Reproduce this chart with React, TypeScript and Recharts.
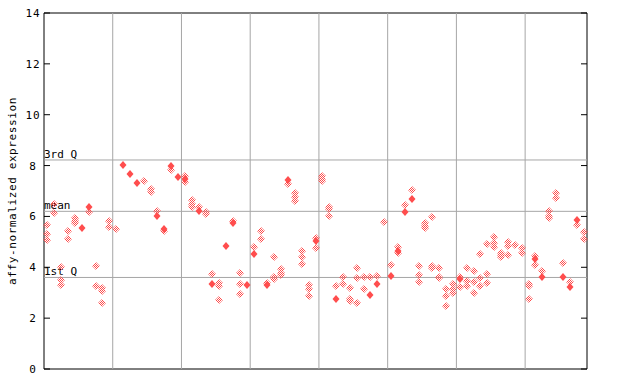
import {
  ScatterChart,
  Scatter,
  XAxis,
  YAxis,
  ReferenceLine,
  ReferenceArea,
  Label,
} from "recharts";

// one entry per sample, in plot order
const hatchedValues: number[][] = [
  [5.66, 5.31, 5.07], [6.49, 6.12], [4.02, 3.5, 3.3], [5.43, 5.1], [5.93, 5.83, 5.73],
  [], [6.16], [4.05, 3.26], [3.2, 3.08, 2.58], [5.82, 5.57],
  [5.52], [], [], [], [7.39],
  [7.07, 6.97], [6.2], [5.41], [7.83], [],
  [7.59, 7.35], [6.65, 6.48, 6.38], [6.36], [6.19, 6.08], [3.74],
  [3.4, 3.26, 2.71], [], [5.82], [3.76, 3.33, 2.94], [],
  [4.78], [5.43, 5.1], [3.4], [4.39, 3.63, 3.53], [3.93, 3.79, 3.68],
  [7.26], [6.93, 6.78, 6.62], [4.63, 4.39, 4.12], [3.3, 3.13, 2.87], [5.15, 4.75],
  [7.59, 7.48, 7.38], [6.36, 6.28, 6.0], [3.26], [3.62, 3.33], [3.19, 2.76, 2.67],
  [3.96, 3.57, 2.58], [3.62, 3.13], [3.62], [3.64], [5.79],
  [4.08], [4.78, 4.55], [6.44], [7.04], [4.05, 3.68, 3.41],
  [5.73, 5.64, 5.53], [5.96, 4.04, 3.96], [3.96, 3.63, 3.57], [3.13, 2.86, 2.47], [3.34, 3.13, 2.99],
  [3.63, 3.21], [3.96, 3.45, 3.25], [3.84, 3.41, 2.99], [4.51, 3.57, 3.25], [4.9, 3.72, 3.37],
  [5.18, 4.97, 4.79], [4.55, 4.47, 4.39], [4.98, 4.82, 4.47], [4.86], [4.75, 4.55],
  [3.33, 3.25, 2.74], [4.43, 4.08], [3.84], [6.2, 6.0, 5.93], [6.91, 6.71],
  [4.16], [3.41], [5.65], [5.39, 5.1],
];

const solidValues: number[][] = [
  [], [], [], [], [],
  [5.56], [6.38], [], [], [],
  [], [8.02], [7.68], [7.3], [],
  [], [6.03], [5.52], [7.99], [7.55],
  [7.48], [], [6.23], [], [3.36],
  [], [4.82], [5.73], [], [3.3],
  [4.53], [], [3.3], [], [],
  [7.43], [], [], [], [5.02],
  [], [], [2.76], [], [],
  [], [], [2.92], [3.36], [],
  [3.67], [4.66], [6.17], [6.67], [],
  [], [], [], [], [],
  [3.55], [], [], [], [],
  [], [], [], [], [],
  [], [4.34], [3.63], [], [],
  [3.63], [3.24], [5.87], [],
];

const yTicks = [0, 2, 4, 6, 8, 10, 12, 14];
const groupBounds = [9.5, 19.5, 29.5, 39.5, 49.5, 59.5, 69.5];
const quartiles = [
  { label: "3rd Q", value: 8.22 },
  { label: "mean", value: 6.2 },
  { label: "1st Q", value: 3.6 },
];

const PLOT_LEFT = 44;
const PLOT_RIGHT = 587;
const RED = "#ff4d4d";
const GRID = "#a6a6a6";
const MONO = "'DejaVu Sans Mono', monospace";

const toPoints = (rows: number[][]) =>
  rows.flatMap((vals, i) => vals.map((v) => ({ x: i, y: v })));

const hatchedData = toPoints(hatchedValues);
const solidData = toPoints(solidValues);

function SolidDiamond(props: any) {
  const cx = Math.round(props.cx);
  const cy = Math.round(props.cy);
  return (
    <polygon
      points={`${cx},${cy - 4} ${cx + 3.5},${cy} ${cx},${cy + 4} ${cx - 3.5},${cy}`}
      fill={RED}
    />
  );
}

function HatchedDiamond(props: any) {
  const cx = Math.round(props.cx);
  const cy = Math.round(props.cy);
  return (
    <g>
      <defs>
        <pattern id="checker" width="2" height="2" patternUnits="userSpaceOnUse">
          <rect x="0" y="0" width="1" height="1" fill={RED} />
          <rect x="1" y="1" width="1" height="1" fill={RED} />
        </pattern>
      </defs>
      <polygon
        points={`${cx},${cy - 4} ${cx + 4},${cy} ${cx},${cy + 4} ${cx - 4},${cy}`}
        fill="url(#checker)"
      />
    </g>
  );
}

function LeftTick(props: any) {
  const { y, payload } = props;
  return (
    <g>
      <line x1={PLOT_LEFT} x2={PLOT_LEFT + 6} y1={y} y2={y} stroke="#000" />
      <line x1={PLOT_RIGHT - 6} x2={PLOT_RIGHT} y1={y} y2={y} stroke="#000" />
      <text
        x={33}
        y={y + 4}
        textAnchor="middle"
        fontFamily={MONO}
        fontSize={11}
        letterSpacing={1}
        fill="#000"
      >
        {payload.value}
      </text>
    </g>
  );
}

const quartileLabel = (text: string) => (p: any) => (
  <text
    x={p.viewBox.x}
    y={p.viewBox.y - 2}
    fontFamily={MONO}
    fontSize={11}
    fill="#000"
  >
    {text}
  </text>
);

export default function App() {
  return (
    <div style={{ position: "absolute", left: 0, top: 0, width: 640, height: 384, background: "#fff" }}>
      <ScatterChart
        width={640}
        height={384}
        margin={{ top: 13, right: 53, bottom: 15, left: 0 }}
      >
        <XAxis type="number" dataKey="x" domain={[-0.5, 78.5]} hide />
        <YAxis
          type="number"
          dataKey="y"
          domain={[0, 14]}
          ticks={yTicks}
          width={44}
          axisLine={false}
          tickLine={false}
          tick={LeftTick}
          interval={0}
        />
        {groupBounds.map((g) => (
          <ReferenceLine key={g} x={g} stroke={GRID} strokeWidth={1} />
        ))}
        {quartiles.map((q) => (
          <ReferenceLine key={q.label} y={q.value} stroke={GRID} strokeWidth={1}>
            <Label content={quartileLabel(q.label)} />
          </ReferenceLine>
        ))}
        <ReferenceArea
          x1={-0.5}
          x2={78.5}
          y1={0}
          y2={14}
          fill="none"
          fillOpacity={0}
          stroke="#000"
          strokeWidth={1}
          ifOverflow="visible"
        />
        <Scatter data={hatchedData} shape={HatchedDiamond} isAnimationActive={false} />
        <Scatter data={solidData} shape={SolidDiamond} isAnimationActive={false} />
      </ScatterChart>
      <div
        style={{
          position: "absolute",
          left: 12,
          top: 191,
          transform: "translate(-50%, -50%) rotate(-90deg)",
          fontFamily: MONO,
          fontSize: 11,
          letterSpacing: 0.6,
          whiteSpace: "nowrap",
        }}
      >
        affy-normalized expression
      </div>
    </div>
  );
}
